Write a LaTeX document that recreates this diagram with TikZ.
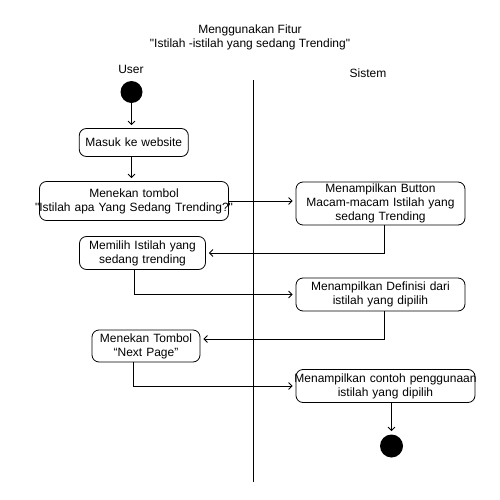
\documentclass[tikz,border=0pt]{standalone}
\usepackage{fontspec}
\setmainfont{Liberation Sans}[Ligatures=TeXOff]
\usetikzlibrary{arrows.meta}

\begin{document}
\begin{tikzpicture}[x=1pt,y=-1pt,line width=0.8pt,>={Straight Barb[length=3.5pt,width=7pt]}]
\tikzset{every node/.append style={inner sep=0pt,font=\fontsize{12}{14}\selectfont}}
\tikzset{act/.style={draw,rounded corners=7pt,align=center},
  dot/.style={circle,fill=black,minimum size=22pt},
  flow/.style={->,shorten >=3pt}}
  \useasboundingbox (0,0) rectangle (500,500);
  \node[align=center] (judul) at (250,37) {Menggunakan Fitur\\"Istilah -istilah yang sedang Trending"};
  \node (user) at (131,69) {User};
  \node (sistem) at (368,73) {Sistem};
  \draw (253,80) -- (253,482);
  \node[dot] (mulai) at (131.5,92) {};
  \node[act,text width=109pt,minimum height=28pt] (masuk) at (133.8,142.5) {Masuk ke website};
  \node[act,text width=189pt,minimum height=39pt] (tombol) at (134,201) {Menekan tombol\\\makebox[\linewidth]{"Istilah apa Yang Sedang Trending?"}};
  \node[act,text width=169pt,minimum height=43pt] (btn) at (380.5,203.5) {Menampilkan Button\\Macam-macam Istilah yang\\sedang Trending};
  \node[act,text width=126pt,minimum height=33pt] (pilih) at (142.5,253) {Memilih Istilah yang\\sedang trending};
  \node[act,text width=169pt,minimum height=33pt] (defin) at (380.5,294.5) {Menampilkan Definisi dari\\istilah yang dipilih};
  \node[act,text width=108pt,minimum height=32pt] (next) at (146,346) {Menekan Tombol\\“Next Page”};
  \node[act,text width=179pt,minimum height=33pt] (contoh) at (385.5,386) {\makebox[\linewidth]{Menampilkan contoh penggunaan}\\istilah yang dipilih};
  \node[dot,minimum size=23pt] (selesai) at (391.5,446) {};
  \draw[flow] (mulai) -- (mulai |- masuk.north);
  \draw[flow] (masuk.south -| mulai) -- (mulai |- tombol.north);
  \draw[flow] (tombol.east) -- (tombol.east -| btn.west);
  \draw[flow] ([xshift=3.5pt]btn.south) |- (pilih.east);
  \draw[flow] ([xshift=-8.5pt]pilih.south) |- (defin.west);
  \draw[flow] ([xshift=3.5pt]defin.south) |- ([yshift=7pt]next.east);
  \draw[flow] ([xshift=-13pt]next.south) |- (contoh.west);
  \draw[flow] (selesai |- contoh.south) -- (selesai);
\end{tikzpicture}
\end{document}
